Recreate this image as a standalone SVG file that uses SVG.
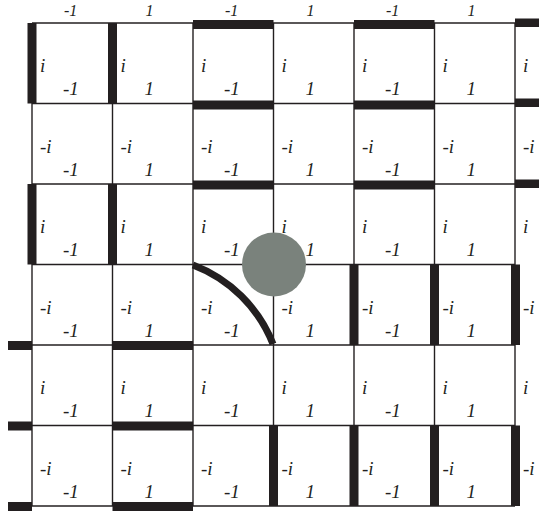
<svg xmlns="http://www.w3.org/2000/svg" width="539" height="514" viewBox="0 0 539 514">
<style>
.grid line{stroke:#231f20;stroke-width:1.4}
.bar{fill:#231f20}
text{font-family:"Liberation Serif","Times New Roman",serif;font-style:italic;font-size:19px;fill:#231f20}
#top-labels text{font-size:16px}
</style>
<rect x="0" y="0" width="539" height="514" fill="#ffffff"/>
<g id="grid" class="grid">
<line x1="32" y1="23" x2="32" y2="506"/>
<line x1="112.5" y1="23" x2="112.5" y2="506"/>
<line x1="193" y1="23" x2="193" y2="506"/>
<line x1="273.5" y1="23" x2="273.5" y2="506"/>
<line x1="354" y1="23" x2="354" y2="506"/>
<line x1="434.5" y1="23" x2="434.5" y2="506"/>
<line x1="515" y1="23" x2="515" y2="506"/>
<line x1="32" y1="23" x2="515" y2="23"/>
<line x1="32" y1="103.5" x2="515" y2="103.5"/>
<line x1="32" y1="184" x2="515" y2="184"/>
<line x1="32" y1="264.5" x2="515" y2="264.5"/>
<line x1="32" y1="345" x2="515" y2="345"/>
<line x1="32" y1="425.5" x2="515" y2="425.5"/>
<line x1="32" y1="506" x2="515" y2="506"/>
</g>
<g id="bars" class="bar">
<rect x="193" y="20" width="80.5" height="9"/>
<rect x="354" y="20" width="80.5" height="9"/>
<rect x="515" y="18.5" width="24" height="8.5"/>
<rect x="193" y="100.5" width="80.5" height="9"/>
<rect x="354" y="100.5" width="80.5" height="9"/>
<rect x="515" y="98.5" width="24" height="8.5"/>
<rect x="193" y="180.5" width="80.5" height="9"/>
<rect x="354" y="180.5" width="80.5" height="9"/>
<rect x="515" y="179.5" width="24" height="8.5"/>
<rect x="112.5" y="341" width="80.5" height="9"/>
<rect x="8" y="341" width="24" height="9"/>
<rect x="112.5" y="421.5" width="80.5" height="9"/>
<rect x="8" y="421.5" width="24" height="9"/>
<rect x="112.5" y="502" width="80.5" height="9"/>
<rect x="8" y="502" width="24" height="9"/>
<rect x="27.5" y="23" width="9" height="80.5"/>
<rect x="108" y="23" width="9" height="80.5"/>
<rect x="27.5" y="184" width="9" height="80.5"/>
<rect x="108" y="184" width="9" height="80.5"/>
<rect x="349.5" y="264.5" width="9" height="80.5"/>
<rect x="430" y="264.5" width="9" height="80.5"/>
<rect x="511" y="264.5" width="9" height="80.5"/>
<rect x="269" y="425.5" width="9" height="80.5"/>
<rect x="349.5" y="425.5" width="9" height="80.5"/>
<rect x="430" y="425.5" width="9" height="80.5"/>
<rect x="511" y="425.5" width="9" height="80.5"/>
</g>
<g id="top-labels">
<text x="64" y="15.5">-1</text>
<text x="145.5" y="15.5">1</text>
<text x="225" y="15.5">-1</text>
<text x="306.5" y="15.5">1</text>
<text x="386" y="15.5">-1</text>
<text x="467.5" y="15.5">1</text>
</g>
<g id="row-labels">
<text x="40" y="72">i</text><text x="120.5" y="72">i</text><text x="201" y="72">i</text><text x="281.5" y="72">i</text><text x="362" y="72">i</text><text x="442.5" y="72">i</text><text x="523" y="72">i</text>
<text x="40" y="152.5">-i</text><text x="120.5" y="152.5">-i</text><text x="201" y="152.5">-i</text><text x="281.5" y="152.5">-i</text><text x="362" y="152.5">-i</text><text x="442.5" y="152.5">-i</text><text x="523" y="152.5">-i</text>
<text x="40" y="233">i</text><text x="120.5" y="233">i</text><text x="201" y="233">i</text><text x="281.5" y="233">i</text><text x="362" y="233">i</text><text x="442.5" y="233">i</text><text x="523" y="233">i</text>
<text x="40" y="313.5">-i</text><text x="120.5" y="313.5">-i</text><text x="201" y="313.5">-i</text><text x="281.5" y="313.5">-i</text><text x="362" y="313.5">-i</text><text x="442.5" y="313.5">-i</text><text x="523" y="313.5">-i</text>
<text x="40" y="394">i</text><text x="120.5" y="394">i</text><text x="201" y="394">i</text><text x="281.5" y="394">i</text><text x="362" y="394">i</text><text x="442.5" y="394">i</text><text x="523" y="394">i</text>
<text x="40" y="474.5">-i</text><text x="120.5" y="474.5">-i</text><text x="201" y="474.5">-i</text><text x="281.5" y="474.5">-i</text><text x="362" y="474.5">-i</text><text x="442.5" y="474.5">-i</text><text x="523" y="474.5">-i</text>
</g>
<g id="cell-labels">
<text x="63" y="95">-1</text><text x="144.5" y="95">1</text><text x="224" y="95">-1</text><text x="305.5" y="95">1</text><text x="385" y="95">-1</text><text x="466.5" y="95">1</text>
<text x="63" y="175.5">-1</text><text x="144.5" y="175.5">1</text><text x="224" y="175.5">-1</text><text x="305.5" y="175.5">1</text><text x="385" y="175.5">-1</text><text x="466.5" y="175.5">1</text>
<text x="63" y="256">-1</text><text x="144.5" y="256">1</text><text x="224" y="256">-1</text><text x="305.5" y="256">1</text><text x="385" y="256">-1</text><text x="466.5" y="256">1</text>
<text x="63" y="336.5">-1</text><text x="144.5" y="336.5">1</text><text x="224" y="336.5">-1</text><text x="305.5" y="336.5">1</text><text x="385" y="336.5">-1</text><text x="466.5" y="336.5">1</text>
<text x="63" y="417">-1</text><text x="144.5" y="417">1</text><text x="224" y="417">-1</text><text x="305.5" y="417">1</text><text x="385" y="417">-1</text><text x="466.5" y="417">1</text>
<text x="63" y="497.5">-1</text><text x="144.5" y="497.5">1</text><text x="224" y="497.5">-1</text><text x="305.5" y="497.5">1</text><text x="385" y="497.5">-1</text><text x="466.5" y="497.5">1</text>
</g>
<g id="connectors">
<path d="M193,265 A139,139 0 0 1 273,344" fill="none" stroke="#231f20" stroke-width="7"/>
</g>
<g id="circle">
<circle cx="274" cy="264.5" r="32" fill="#7a827c"/>
</g>
</svg>
